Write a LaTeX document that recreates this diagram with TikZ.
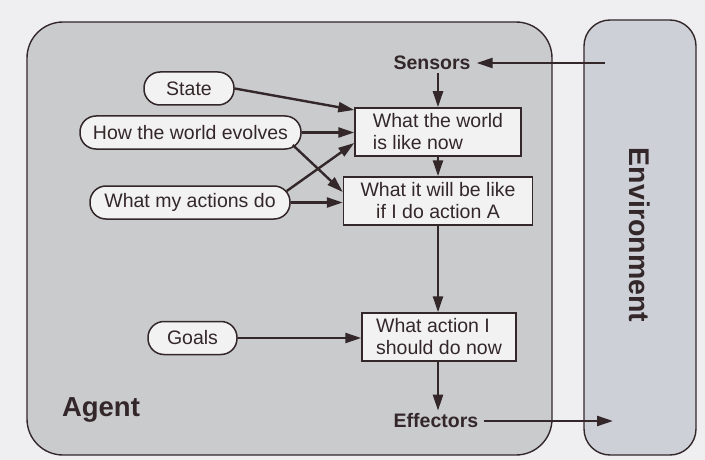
\documentclass[tikz,border=0pt]{standalone}
\usepackage{fontspec}
\setmainfont{Liberation Sans}
\usetikzlibrary{arrows.meta,calc}
\definecolor{inkc}{HTML}{33272A}
\definecolor{paperc}{HTML}{EFEFF1}
\definecolor{agentc}{HTML}{CACBCD}
\definecolor{envc}{HTML}{CDD0D6}
\definecolor{boxc}{HTML}{F2F2F2}
\tikzset{
  pill/.style={draw=inkc,line width=1.5pt,fill=boxc,rounded corners=16pt,minimum height=33pt,inner sep=0pt,font=\fontsize{19.5}{21}\selectfont,text=inkc},
  stepbox/.style={draw=inkc,line width=1.5pt,fill=boxc,minimum height=48pt,inner sep=0pt,font=\fontsize{19.5}{22}\selectfont,text=inkc},
  lbl/.style={font=\bfseries\fontsize{19.5}{21}\selectfont,text=inkc,inner xsep=6pt,inner ysep=3pt},
  conn/.style={draw=inkc,line width=2.4pt,-{Triangle[length=16pt,width=10pt]}},
  region/.style={draw=inkc,line width=1.4pt}
}
\begin{document}
\begin{tikzpicture}[x=1pt,y=-1pt]
\useasboundingbox (0,0) rectangle (705,460);
\fill[paperc] (0,0) rectangle (705,460);
% regions
\draw[region,fill=agentc,rounded corners=36pt] (27,22) rectangle (552,455);
\draw[region,fill=envc,rounded corners=26pt] (584,20) rectangle (696,455);
\node[font=\bfseries\fontsize{27.5}{30}\selectfont,text=inkc] (agent) at (101,410) {Agent};
\node[font=\bfseries\fontsize{28.5}{30}\selectfont,text=inkc,rotate=-90] (env) at (640,235) {Environment};
% nodes
\node[lbl] (sensors) at (432,63) {Sensors};
\node[lbl] (effectors) at (436,421) {Effectors};
\node[stepbox,minimum width=166pt,align=left] (b1) at (438,132) {What the world\\is like now};
\node[stepbox,minimum width=189pt,align=center] (b2) at (438,201) {What it will be like\\if I do action A};
\node[stepbox,minimum width=154pt,align=left] (b3) at (439,337) {What action I\\should do now};
\node[pill,minimum width=90pt] (state) at (189,88.5) {State};
\node[pill,minimum width=221pt] (how) at (190.5,132.5) {How the world evolves};
\node[pill,minimum width=200pt] (what) at (190,202.5) {What my actions do};
\node[pill,minimum width=89pt] (goals) at (192.5,338) {Goals};
\coordinate (envin) at (605,63);
\coordinate (envout) at (613,421);
% connectors
\draw[conn] (envin) -- (sensors.east);
\draw[conn] (b1.north |- sensors.south) -- (b1.north);
\draw[conn] (b1.south) -- (b2.north);
\draw[conn] (b2.south) -- (b2.south |- b3.north);
\draw[conn] (b2.south |- b3.south) -- (b2.south |- effectors.north);
\draw[conn] (effectors.east) -- (envout);
\draw[conn] (state.east) -- ([yshift=22pt]b1.west);
\draw[conn] (how.east) -- (how.east -| b1.west);
\draw[conn] ([xshift=-9pt,yshift=-12.5pt]how.east) -- ([yshift=9pt]b2.west);
\draw[conn] ([xshift=-4pt,yshift=11.5pt]what.east) -- ([yshift=-11pt]b1.west);
\draw[conn] (what.east) -- (what.east -| b2.west);
\draw[conn] (goals.east) -- (goals.east -| b3.west);
\end{tikzpicture}
\end{document}
